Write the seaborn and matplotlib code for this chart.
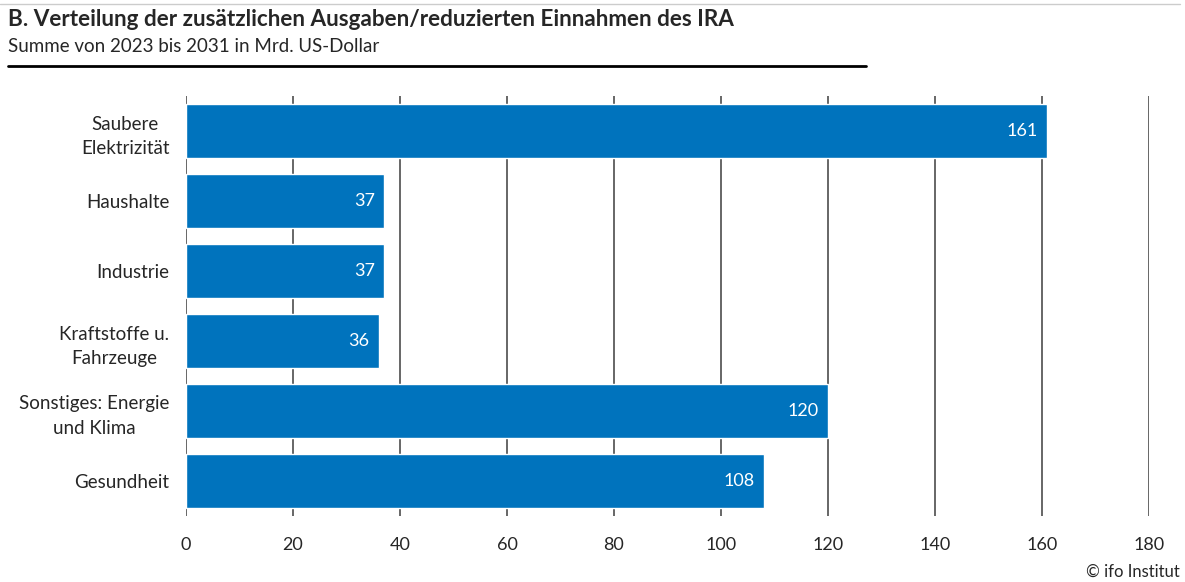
import matplotlib
matplotlib.use("Agg")
import matplotlib.pyplot as plt
import seaborn as sns
import pandas as pd

kategorien = [
    "Saubere\nElektrizität",
    "Haushalte",
    "Industrie",
    "Kraftstoffe u.\nFahrzeuge",
    "Sonstiges: Energie\nund Klima",
    "Gesundheit",
]
werte = [161, 37, 37, 36, 120, 108]
x_ticks = [0, 20, 40, 60, 80, 100, 120, 140, 160, 180]

BLAU = "#0073bd"
GRID = "#5a5a5a"

sns.set_theme(style="white")
plt.rcParams["font.family"] = ["Lato", "DejaVu Sans"]

df = pd.DataFrame({"kategorie": kategorien, "wert": werte})

fig = plt.figure(figsize=(11.85, 5.82), dpi=100)
ax = fig.add_axes([186 / 1185, 1 - 516 / 582, (1149 - 186) / 1185, (516 - 96) / 582])

for x in x_ticks:
    ax.axvline(x, color=GRID, lw=1.3, zorder=0)

sns.barplot(data=df, x="wert", y="kategorie", color=BLAU, saturation=1,
            width=0.77, ax=ax, zorder=2)

for i, v in enumerate(werte):
    ax.text(v - 1.7, i, str(v), color="white", ha="right", va="center",
            fontsize=13, zorder=3)

ax.set_xlim(0, 180)
ax.set_ylim(5.5, -0.5)
ax.set_xticks(x_ticks)
ax.set_xticklabels([str(t) for t in x_ticks], fontsize=13)
ax.tick_params(axis="x", length=0, pad=15)
ax.tick_params(axis="y", length=0, pad=12, labelsize=13.5)
ax.set_xlabel("")
ax.set_ylabel("")
for s in ax.spines.values():
    s.set_visible(False)
for lbl in ax.get_yticklabels():
    lbl.set_horizontalalignment("right")
    lbl.set_multialignment("center")
    lbl.set_linespacing(1.55)

fig.text(8 / 1185, 1 - 20 / 582, "B. Verteilung der zusätzlichen Ausgaben/reduzierten Einnahmen des IRA",
         fontsize=16.2, fontweight="bold", va="center", ha="left")
fig.text(8 / 1185, 1 - 46 / 582, "Summe von 2023 bis 2031 in Mrd. US-Dollar",
         fontsize=13.5, va="center", ha="left")
fig.add_artist(plt.Line2D([8 / 1185, 866 / 1185], [1 - 66 / 582, 1 - 66 / 582],
                          color="black", lw=2, transform=fig.transFigure))
fig.add_artist(plt.Line2D([0, 1180 / 1185], [1 - 4 / 582, 1 - 4 / 582],
                          color="#cccccc", lw=1, transform=fig.transFigure))
fig.text(1180 / 1185, 1 - 572 / 582, "© ifo Institut", fontsize=12,
         va="center", ha="right")

fig.savefig("out.png", dpi=100)
